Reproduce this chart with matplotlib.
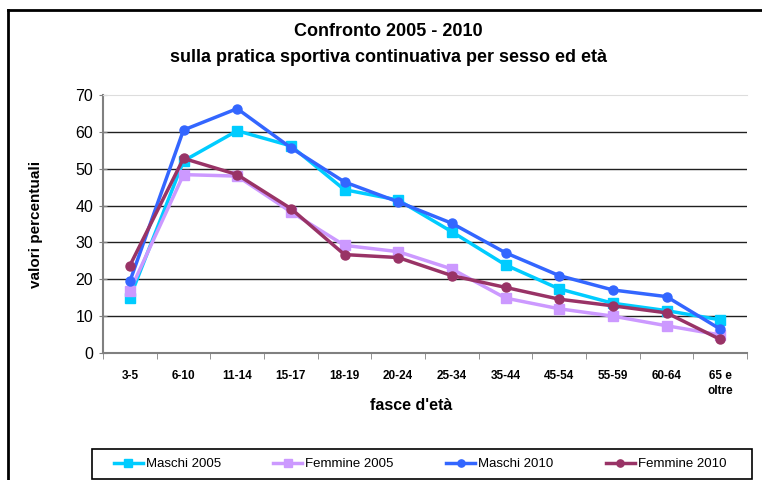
import matplotlib.pyplot as plt
from matplotlib.lines import Line2D
from matplotlib.patches import Rectangle
import numpy as np

plt.rcParams['font.family'] = ['Liberation Sans', 'DejaVu Sans']

fasce = ['3-5', '6-10', '11-14', '15-17', '18-19', '20-24', '25-34',
         '35-44', '45-54', '55-59', '60-64', '65 e\noltre']

maschi_2005 = [15.0, 52.1, 60.3, 56.2, 44.3, 41.5, 32.9, 23.9, 17.4, 13.5, 11.5, 9.0]
femmine_2005 = [16.8, 48.4, 48.0, 38.3, 29.2, 27.5, 22.8, 14.9, 12.0, 10.0, 7.4, 4.9]
maschi_2010 = [19.4, 60.5, 66.3, 55.7, 46.4, 41.0, 35.2, 27.2, 21.0, 17.1, 15.3, 6.5]
femmine_2010 = [23.7, 52.8, 48.4, 39.2, 26.7, 25.9, 21.0, 17.8, 14.6, 12.8, 10.9, 3.7]

serie = [
    ('Maschi 2005', maschi_2005, '#00CCFF', 's'),
    ('Femmine 2005', femmine_2005, '#CC99FF', 's'),
    ('Maschi 2010', maschi_2010, '#3366FF', 'o'),
    ('Femmine 2010', femmine_2010, '#993366', 'o'),
]

fig = plt.figure(figsize=(7.62, 4.80), dpi=100)
ax = fig.add_axes([103 / 762, 127 / 480, 644 / 762, 258 / 480])

x = np.arange(len(fasce))
for nome, valori, colore, marker in serie:
    ax.plot(x, valori, color=colore, lw=2.5, marker=marker, markersize=6.5,
            label=nome, zorder=3)

ax.set_xlim(-0.5, len(fasce) - 0.5)
ax.set_ylim(0, 70)
ax.set_yticks(range(0, 71, 10))
ax.tick_params(axis='y', direction='inout', length=6, color='#808080',
               labelsize=11.5, pad=4)
for y in range(10, 70, 10):
    ax.axhline(y, color='#202020', lw=1, zorder=1)

# tacche tra le categorie
ax.set_xticks(x)
ax.set_xticklabels(fasce, fontsize=8.5, fontweight='bold', linespacing=1.4)
ax.tick_params(axis='x', which='major', length=0, pad=12)
ax.set_xticks(np.arange(-0.5, len(fasce), 1), minor=True)
ax.tick_params(axis='x', which='minor', direction='out', length=4, color='#808080')

for lato in ['left', 'bottom']:
    ax.spines[lato].set_color('#808080')
    ax.spines[lato].set_linewidth(1.5)
ax.spines['right'].set_visible(False)
ax.spines['top'].set_color('#dddddd')

fig.text(36 / 762, 1 - 224 / 480, 'valori percentuali', rotation=90, ha='center',
         va='center', fontsize=11, fontweight='bold')
fig.text(411 / 762, 1 - 405 / 480, "fasce d'età", ha='center', va='center',
         fontsize=11.5, fontweight='bold')

fig.text(388 / 762, 1 - 32 / 480, 'Confronto 2005 - 2010', ha='center', va='center',
         fontsize=13, fontweight='bold')
fig.text(388 / 762, 1 - 57 / 480, 'sulla pratica sportiva continuativa per sesso ed età',
         ha='center', va='center', fontsize=13, fontweight='bold')

# legenda in un riquadro disegnato a parte
fig.add_artist(Rectangle((92 / 762, 1 / 480), 660 / 762, 30 / 480, fill=False,
                         edgecolor='black', lw=1.2, transform=fig.transFigure))
fig.legend(loc='center', bbox_to_anchor=(420 / 762, 16 / 480), ncol=4,
           fontsize=9.5, frameon=False, handlelength=2.2, handletextpad=0.2,
           columnspacing=4.0, borderaxespad=0, markerscale=0.8)

# cornice esterna
fig.add_artist(Line2D([8 / 762, 1], [1 - 10 / 480] * 2, color='black', lw=2,
                      transform=fig.transFigure))
fig.add_artist(Line2D([8 / 762] * 2, [0, 1 - 10 / 480], color='black', lw=2,
                      transform=fig.transFigure))

fig.savefig('out.png', dpi=100)
